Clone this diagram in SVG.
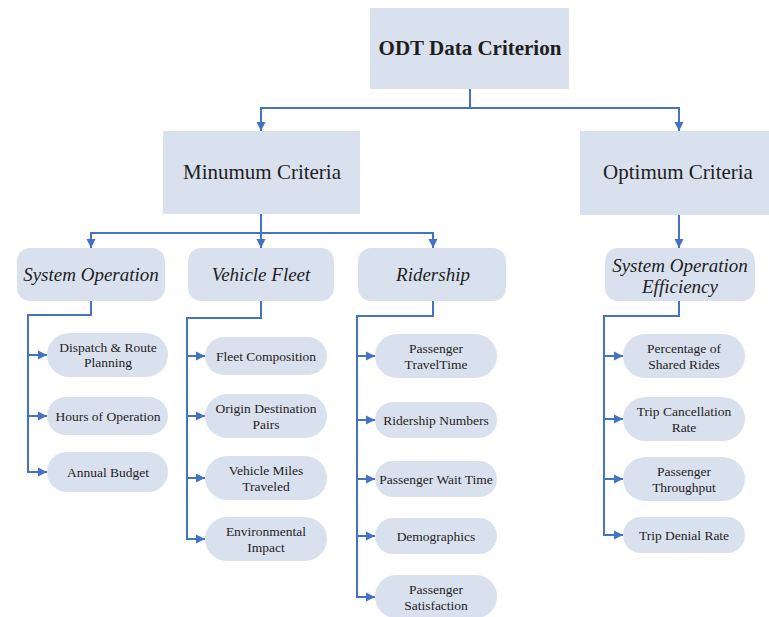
<svg xmlns="http://www.w3.org/2000/svg" width="769" height="617" viewBox="0 0 769 617">
<style>
.box{fill:#dae1ee;}
.t{font-family:"Liberation Serif","Times New Roman",serif;fill:#1e1e1e;text-anchor:middle;}
.top{font-size:21px;font-weight:bold;}
.l1{font-size:21px;}
.l2{font-size:19px;font-style:italic;}
.l3{font-size:13.5px;}
.c{fill:none;stroke:#4472c4;stroke-width:2;}
</style>
<defs>
<marker id="ah" markerUnits="userSpaceOnUse" markerWidth="10" markerHeight="10" refX="9" refY="5" orient="auto">
<path d="M0,0.5 L9,5 L0,9.5 z" fill="#4472c4"/>
</marker>
</defs>
<rect width="769" height="617" fill="#ffffff"/>
<g id="connectors">
<path class="c" d="M470,89 V108"/>
<path class="c" d="M470,108 H261 V131" marker-end="url(#ah)"/>
<path class="c" d="M470,108 H679 V131" marker-end="url(#ah)"/>
<path class="c" d="M261,214 V233 H91 V248" marker-end="url(#ah)"/>
<path class="c" d="M261,233 V248" marker-end="url(#ah)"/>
<path class="c" d="M261,233 H433 V248" marker-end="url(#ah)"/>
<path class="c" d="M679,215 V248" marker-end="url(#ah)"/>
<path class="c" d="M91,301 V315 H28 V472 H47" marker-end="url(#ah)"/>
<path class="c" d="M28,355 H47" marker-end="url(#ah)"/>
<path class="c" d="M28,416 H47" marker-end="url(#ah)"/>
<path class="c" d="M261,301 V318 H187 V539 H205" marker-end="url(#ah)"/>
<path class="c" d="M187,356 H205" marker-end="url(#ah)"/>
<path class="c" d="M187,416 H205" marker-end="url(#ah)"/>
<path class="c" d="M187,478 H205" marker-end="url(#ah)"/>
<path class="c" d="M433,301 V316 H357 V597 H375" marker-end="url(#ah)"/>
<path class="c" d="M357,356 H375" marker-end="url(#ah)"/>
<path class="c" d="M357,420 H375" marker-end="url(#ah)"/>
<path class="c" d="M357,479 H375" marker-end="url(#ah)"/>
<path class="c" d="M357,536 H375" marker-end="url(#ah)"/>
<path class="c" d="M679,301 V316 H604 V535 H623" marker-end="url(#ah)"/>
<path class="c" d="M604,356 H623" marker-end="url(#ah)"/>
<path class="c" d="M604,419 H623" marker-end="url(#ah)"/>
<path class="c" d="M604,479 H623" marker-end="url(#ah)"/>
</g>
<g id="odt"><rect class="box" x="370" y="8" width="199" height="81"/><text class="t top" x="470" y="55">ODT Data Criterion</text></g>
<g id="minimum"><rect class="box" x="163" y="131" width="197" height="83"/><text class="t l1" x="262" y="179">Minumum Criteria</text></g>
<g id="optimum"><rect class="box" x="580" y="131" width="197" height="84"/><text class="t l1" x="678" y="179">Optimum Criteria</text></g>
<g id="sysop"><rect class="box" x="17" y="248" width="148" height="53" rx="13"/><text class="t l2" x="91" y="281">System Operation</text></g>
<g id="fleet"><rect class="box" x="188" y="248" width="146" height="53" rx="13"/><text class="t l2" x="261" y="281">Vehicle Fleet</text></g>
<g id="ridership"><rect class="box" x="358" y="248" width="148" height="53" rx="13"/><text class="t l2" x="433" y="281">Ridership</text></g>
<g id="efficiency"><rect class="box" x="605" y="248" width="150" height="53" rx="13"/><text class="t l2" x="680" y="272">System Operation</text><text class="t l2" x="680" y="293">Efficiency</text></g>
<g id="dispatch"><rect class="box" x="47" y="333" width="121" height="44" rx="22"/><text class="t l3" x="108" y="352">Dispatch &amp; Route</text><text class="t l3" x="108" y="367">Planning</text></g>
<g id="hours"><rect class="box" x="47" y="397" width="121" height="38" rx="19"/><text class="t l3" x="108" y="421">Hours of Operation</text></g>
<g id="budget"><rect class="box" x="47" y="452" width="121" height="40" rx="20"/><text class="t l3" x="108" y="477">Annual Budget</text></g>
<g id="composition"><rect class="box" x="205" y="337" width="122" height="38" rx="19"/><text class="t l3" x="266" y="361">Fleet Composition</text></g>
<g id="origin"><rect class="box" x="205" y="394" width="122" height="44" rx="22"/><text class="t l3" x="266" y="413">Origin Destination</text><text class="t l3" x="266" y="429">Pairs</text></g>
<g id="miles"><rect class="box" x="205" y="456" width="122" height="44" rx="22"/><text class="t l3" x="266" y="475">Vehicle Miles</text><text class="t l3" x="266" y="491">Traveled</text></g>
<g id="environment"><rect class="box" x="205" y="517" width="122" height="44" rx="22"/><text class="t l3" x="266" y="536">Environmental</text><text class="t l3" x="266" y="552">Impact</text></g>
<g id="traveltime"><rect class="box" x="375" y="334" width="122" height="44" rx="22"/><text class="t l3" x="436" y="353">Passenger</text><text class="t l3" x="436" y="369">TravelTime</text></g>
<g id="numbers"><rect class="box" x="375" y="402" width="122" height="36" rx="18"/><text class="t l3" x="436" y="425">Ridership Numbers</text></g>
<g id="waittime"><rect class="box" x="375" y="461" width="122" height="36" rx="18"/><text class="t l3" x="436" y="484">Passenger Wait Time</text></g>
<g id="demographics"><rect class="box" x="375" y="518" width="122" height="36" rx="18"/><text class="t l3" x="436" y="541">Demographics</text></g>
<g id="satisfaction"><rect class="box" x="375" y="575" width="122" height="43" rx="21"/><text class="t l3" x="436" y="594">Passenger</text><text class="t l3" x="436" y="610">Satisfaction</text></g>
<g id="shared"><rect class="box" x="623" y="334" width="122" height="44" rx="22"/><text class="t l3" x="684" y="353">Percentage of</text><text class="t l3" x="684" y="369">Shared Rides</text></g>
<g id="cancellation"><rect class="box" x="623" y="397" width="122" height="44" rx="22"/><text class="t l3" x="684" y="416">Trip Cancellation</text><text class="t l3" x="684" y="432">Rate</text></g>
<g id="throughput"><rect class="box" x="623" y="457" width="122" height="44" rx="22"/><text class="t l3" x="684" y="476">Passenger</text><text class="t l3" x="684" y="492">Throughput</text></g>
<g id="denial"><rect class="box" x="623" y="517" width="122" height="36" rx="18"/><text class="t l3" x="684" y="540">Trip Denial Rate</text></g>
</svg>
